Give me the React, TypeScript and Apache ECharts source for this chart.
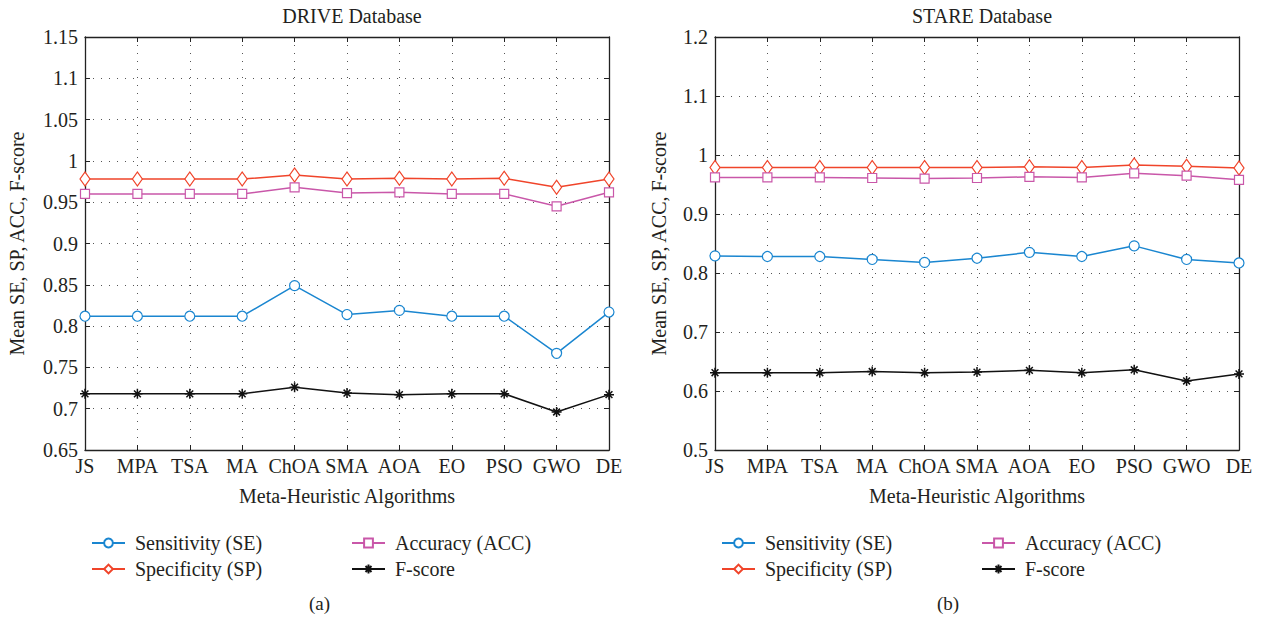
import React, { useEffect, useRef } from "react";
import * as echarts from "echarts";

const categories = ["JS", "MPA", "TSA", "MA", "ChOA", "SMA", "AOA", "EO", "PSO", "GWO", "DE"];

const driveSE = [0.812, 0.812, 0.812, 0.812, 0.849, 0.814, 0.819, 0.812, 0.812, 0.767, 0.817];
const driveSP = [0.978, 0.978, 0.978, 0.978, 0.983, 0.978, 0.979, 0.978, 0.979, 0.968, 0.978];
const driveACC = [0.960, 0.960, 0.960, 0.960, 0.968, 0.961, 0.962, 0.960, 0.960, 0.945, 0.962];
const driveF = [0.718, 0.718, 0.718, 0.718, 0.726, 0.719, 0.717, 0.718, 0.718, 0.696, 0.717];

const stareSE = [0.829, 0.828, 0.828, 0.823, 0.818, 0.825, 0.835, 0.828, 0.846, 0.823, 0.817];
const stareSP = [0.979, 0.979, 0.979, 0.979, 0.979, 0.979, 0.980, 0.979, 0.983, 0.981, 0.978];
const stareACC = [0.962, 0.962, 0.962, 0.961, 0.960, 0.961, 0.963, 0.962, 0.969, 0.965, 0.958];
const stareF = [0.631, 0.631, 0.631, 0.633, 0.631, 0.632, 0.635, 0.631, 0.636, 0.617, 0.629];

const seriesNames = ["Sensitivity (SE)", "Specificity (SP)", "Accuracy (ACC)", "F-score"];
const panelTitles = ["DRIVE Database", "STARE Database"];
const panelCaptions = ["(a)", "(b)"];
const xAxisName = "Meta-Heuristic Algorithms";
const yAxisName = "Mean SE, SP, ACC, F-score";
const yRanges = [
  { min: 0.65, max: 1.15, interval: 0.05 },
  { min: 0.5, max: 1.2, interval: 0.1 },
];

const FONT = "'Liberation Serif', 'DejaVu Serif', serif";
const TXT = "#231f20";
const COLORS = ["#1a86d0", "#f0442a", "#c957a9", "#111111"];
const STAR = "path://M5,0L5,10M0,5L10,5M1.6,1.6L8.4,8.4M1.6,8.4L8.4,1.6";

export default function App() {
  const ref = useRef<HTMLDivElement>(null);

  useEffect(() => {
    if (!ref.current) return;
    const chart = echarts.init(ref.current, null, { renderer: "svg" });

    const grids = [
      { left: 85, right: 1263 - 609, top: 37, height: 413 },
      { left: 715, right: 1263 - 1239, top: 37, height: 413 },
    ];
    const nameGaps = [58, 46];
    const captionLeft = [309, 937];

    const xAxes: any[] = [];
    const yAxes: any[] = [];
    const series: any[] = [];
    const titles: any[] = [];
    const legends: any[] = [];
    const graphics: any[] = [];

    const panelData = [
      [driveSE, driveSP, driveACC, driveF],
      [stareSE, stareSP, stareACC, stareF],
    ];

    grids.forEach((g, p) => {
      const axisLine = { show: true, lineStyle: { color: "#222", width: 1.3 } };
      const tick = { show: true, inside: true, length: 5, lineStyle: { color: "#222", width: 1 } };
      const dotted = { show: true, lineStyle: { color: "#555", width: 1, type: [1, 7] } };
      xAxes.push({
        type: "category",
        gridIndex: p,
        data: categories,
        boundaryGap: false,
        position: "bottom",
        axisLine,
        axisTick: tick,
        splitLine: dotted,
        axisLabel: { color: TXT, fontFamily: FONT, fontSize: 20, margin: 6, interval: 0 },
        name: xAxisName,
        nameLocation: "middle",
        nameGap: 36,
        nameTextStyle: { color: TXT, fontFamily: FONT, fontSize: 20 },
      });
      xAxes.push({
        type: "category",
        gridIndex: p,
        data: categories,
        boundaryGap: false,
        position: "top",
        axisLine,
        axisTick: tick,
        splitLine: { show: false },
        axisLabel: { show: false },
      });
      const yr = yRanges[p];
      yAxes.push({
        type: "value",
        gridIndex: p,
        min: yr.min,
        max: yr.max,
        interval: yr.interval,
        position: "left",
        axisLine,
        axisTick: tick,
        splitLine: dotted,
        axisLabel: { color: TXT, fontFamily: FONT, fontSize: 20, margin: 7 },
        name: yAxisName,
        nameLocation: "middle",
        nameGap: nameGaps[p],
        nameTextStyle: { color: TXT, fontFamily: FONT, fontSize: 20 },
      });
      yAxes.push({
        type: "value",
        gridIndex: p,
        min: yr.min,
        max: yr.max,
        interval: yr.interval,
        position: "right",
        axisLine,
        axisTick: tick,
        splitLine: { show: false },
        axisLabel: { show: false },
      });

      const symbols = ["circle", "diamond", "rect", STAR];
      const sizes = [10, [10, 14], 9, 10];
      panelData[p].forEach((vals, i) => {
        series.push({
          type: "line",
          name: seriesNames[i],
          xAxisIndex: p * 2,
          yAxisIndex: p * 2,
          data: vals,
          symbol: symbols[i],
          symbolSize: sizes[i],
          showAllSymbol: true,
          lineStyle: { color: COLORS[i], width: 1.5, type: "solid" },
          itemStyle: {
            color: i === 3 ? "transparent" : "#ffffff",
            borderColor: COLORS[i],
            borderWidth: i === 3 ? 1.5 : 1.2,
          },
          emphasis: { disabled: true },
        });
      });

      const center = (g.left + (1263 - g.right)) / 2;
      titles.push({
        text: panelTitles[p],
        left: center,
        textAlign: "center",
        top: 1,
        textStyle: { color: TXT, fontFamily: FONT, fontSize: 20, fontWeight: "normal" },
      });

      const legendBase = {
        orient: "vertical",
        top: 527,
        itemWidth: 33,
        itemHeight: 11,
        itemGap: 4,
        textStyle: { color: TXT, fontFamily: FONT, fontSize: 20, lineHeight: 22, padding: [0, 0, 0, 5] },
        selectedMode: false,
      };
      legends.push({ ...legendBase, left: g.left + 1, data: [seriesNames[0], seriesNames[1]] });
      legends.push({ ...legendBase, left: g.left + 261, data: [seriesNames[2], seriesNames[3]] });

      graphics.push({
        type: "text",
        left: captionLeft[p],
        top: 594,
        style: { text: panelCaptions[p], fill: TXT, font: `19px ${FONT}` },
      });
    });

    chart.setOption({
      animation: false,
      backgroundColor: "#ffffff",
      title: titles,
      legend: legends,
      grid: grids.map((g) => ({ ...g, show: false, containLabel: false })),
      xAxis: xAxes,
      yAxis: yAxes,
      series,
      graphic: graphics,
    });

    return () => chart.dispose();
  }, []);

  return (
    <div
      ref={ref}
      style={{ position: "absolute", left: 0, top: 0, width: 1263, height: 622 }}
    />
  );
}
